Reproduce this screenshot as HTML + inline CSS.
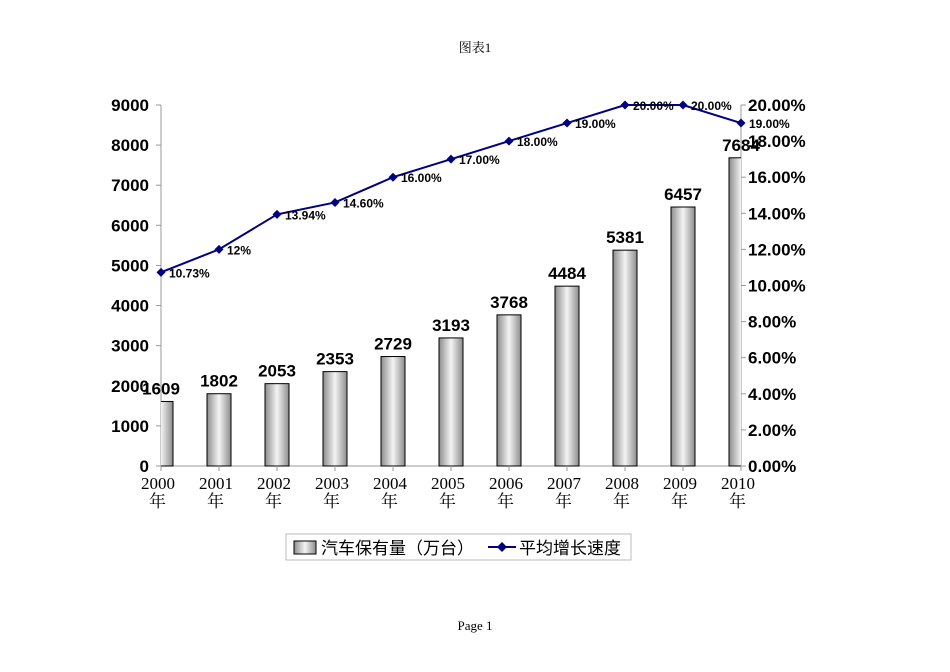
<!DOCTYPE html>
<html><head><meta charset="utf-8"><style>
body{margin:0;background:#fff;width:950px;height:672px;overflow:hidden}
svg{display:block}
.ax{font:bold 17px "Liberation Sans","Noto Sans CJK SC",sans-serif;fill:#000}
.xl{font:17px "Liberation Serif","Noto Serif CJK SC",serif;fill:#000}
.vl{font:bold 17px "Liberation Sans",sans-serif;fill:#000}
.pl{font:bold 12px "Liberation Sans",sans-serif;fill:#000}
</style></head><body>
<svg id="c" width="950" height="672">
<defs><linearGradient id="g" x1="0" x2="1" y1="0" y2="0">
<stop offset="0" stop-color="#8c8c8c"/><stop offset="0.5" stop-color="#f4f4f4"/><stop offset="1" stop-color="#8c8c8c"/></linearGradient>
<clipPath id="pc"><rect x="161" y="90" width="580" height="377"/></clipPath></defs>
<text x="475" y="52" text-anchor="middle" style="font:13px 'Liberation Serif','Noto Serif CJK SC',serif">图表1</text>
<text x="475" y="630" text-anchor="middle" style="font:13px 'Liberation Serif',serif">Page  1</text>
<g id="plot"></g>
<g>
<rect x="286" y="534" width="345" height="26" fill="#fff" stroke="#bbb"/>
<rect x="294" y="541" width="22" height="13" fill="url(#g)" stroke="#000"/>
<text x="321" y="554" class="ax" style="font-weight:normal">汽车保有量（万台）</text>
<line x1="488" y1="547" x2="516" y2="547" stroke="#000080" stroke-width="2"/>
<path d="M502 542 L507 547 L502 552 L497 547Z" fill="#000080"/>
<text x="519" y="554" class="ax" style="font-weight:normal">平均增长速度</text>
</g>
</svg>
<script>
const categories=["2000","2001","2002","2003","2004","2005","2006","2007","2008","2009","2010"];
const stock=[1609,1802,2053,2353,2729,3193,3768,4484,5381,6457,7684];
const growth=[10.73,12,13.94,14.6,16,17,18,19,20,20,19];
const growthLabels=["10.73%","12%","13.94%","14.60%","16.00%","17.00%","18.00%","19.00%","20.00%","20.00%","19.00%"];
const leftTicks=[0,1000,2000,3000,4000,5000,6000,7000,8000,9000];
const rightTicks=[0,2,4,6,8,10,12,14,16,18,20];
const NS="http://www.w3.org/2000/svg";
const X0=161,X1=741,Y0=466,Y1=105;
const x=i=>X0+i*(X1-X0)/(categories.length-1);
const yL=v=>Y0-v/9000*(Y0-Y1);
const yR=v=>Y0-v/20*(Y0-Y1);
const p=document.getElementById('plot');
function mk(t,a,par){const e=document.createElementNS(NS,t);for(const k in a)e.setAttribute(k,a[k]);(par||p).appendChild(e);return e;}
let e;
e=mk('line',{x1:X0,y1:Y1,x2:X0,y2:Y0,stroke:'#999'});


e=mk('line',{x1:X1,y1:Y1,x2:X1,y2:Y0,stroke:'#999'});


e=mk('line',{x1:X0,y1:Y0,x2:X1,y2:Y0,stroke:'#999'});


leftTicks.forEach(v=>{mk('line',{x1:X0-5,x2:X0,y1:yL(v),y2:yL(v),stroke:'#999'});
 const t=mk('text',{x:X0-12,y:yL(v)+6,'text-anchor':'end',class:'ax'});t.textContent=v;
 
 });
rightTicks.forEach(v=>{mk('line',{x1:X1,x2:X1+5,y1:yR(v),y2:yR(v),stroke:'#999'});
 const t=mk('text',{x:X1+7,y:yR(v)+6,class:'ax'});t.textContent=v.toFixed(2)+'%';
 
 });
const cg=mk('g',{'clip-path':'url(#pc)'});
categories.forEach((c,i)=>{
 mk('line',{x1:x(i),x2:x(i),y1:Y0,y2:Y0+5,stroke:'#999'});
 const t=mk('text',{x:x(i)-3,y:Y0+23,'text-anchor':'middle',class:'xl'});t.textContent=c;
 
 
 const t2=mk('text',{x:x(i)-12,y:Y0+41,class:'xl'});t2.textContent='年';
 
 
 const b=mk('rect',{x:x(i)-12,y:yL(stock[i]),width:24,height:Y0-yL(stock[i]),fill:'url(#g)',stroke:'#000','stroke-width':1},cg);
 
 
 const v=mk('text',{x:x(i),y:yL(stock[i])-7,'text-anchor':'middle',class:'vl'});v.textContent=stock[i];
 
 
});
const ln=mk('polyline',{points:growth.map((g,i)=>x(i)+','+yR(g)).join(' '),fill:'none',stroke:'#000080','stroke-width':2});


growth.forEach((g,i)=>{
 const m=mk('path',{d:`M${x(i)} ${yR(g)-4.5}L${x(i)+4.5} ${yR(g)}L${x(i)} ${yR(g)+4.5}L${x(i)-4.5} ${yR(g)}Z`,fill:'#000080'});
 
 
 const t=mk('text',{x:x(i)+8,y:yR(g)+5,class:'pl'});t.textContent=growthLabels[i];
 
 
});
</script>
</body></html>
